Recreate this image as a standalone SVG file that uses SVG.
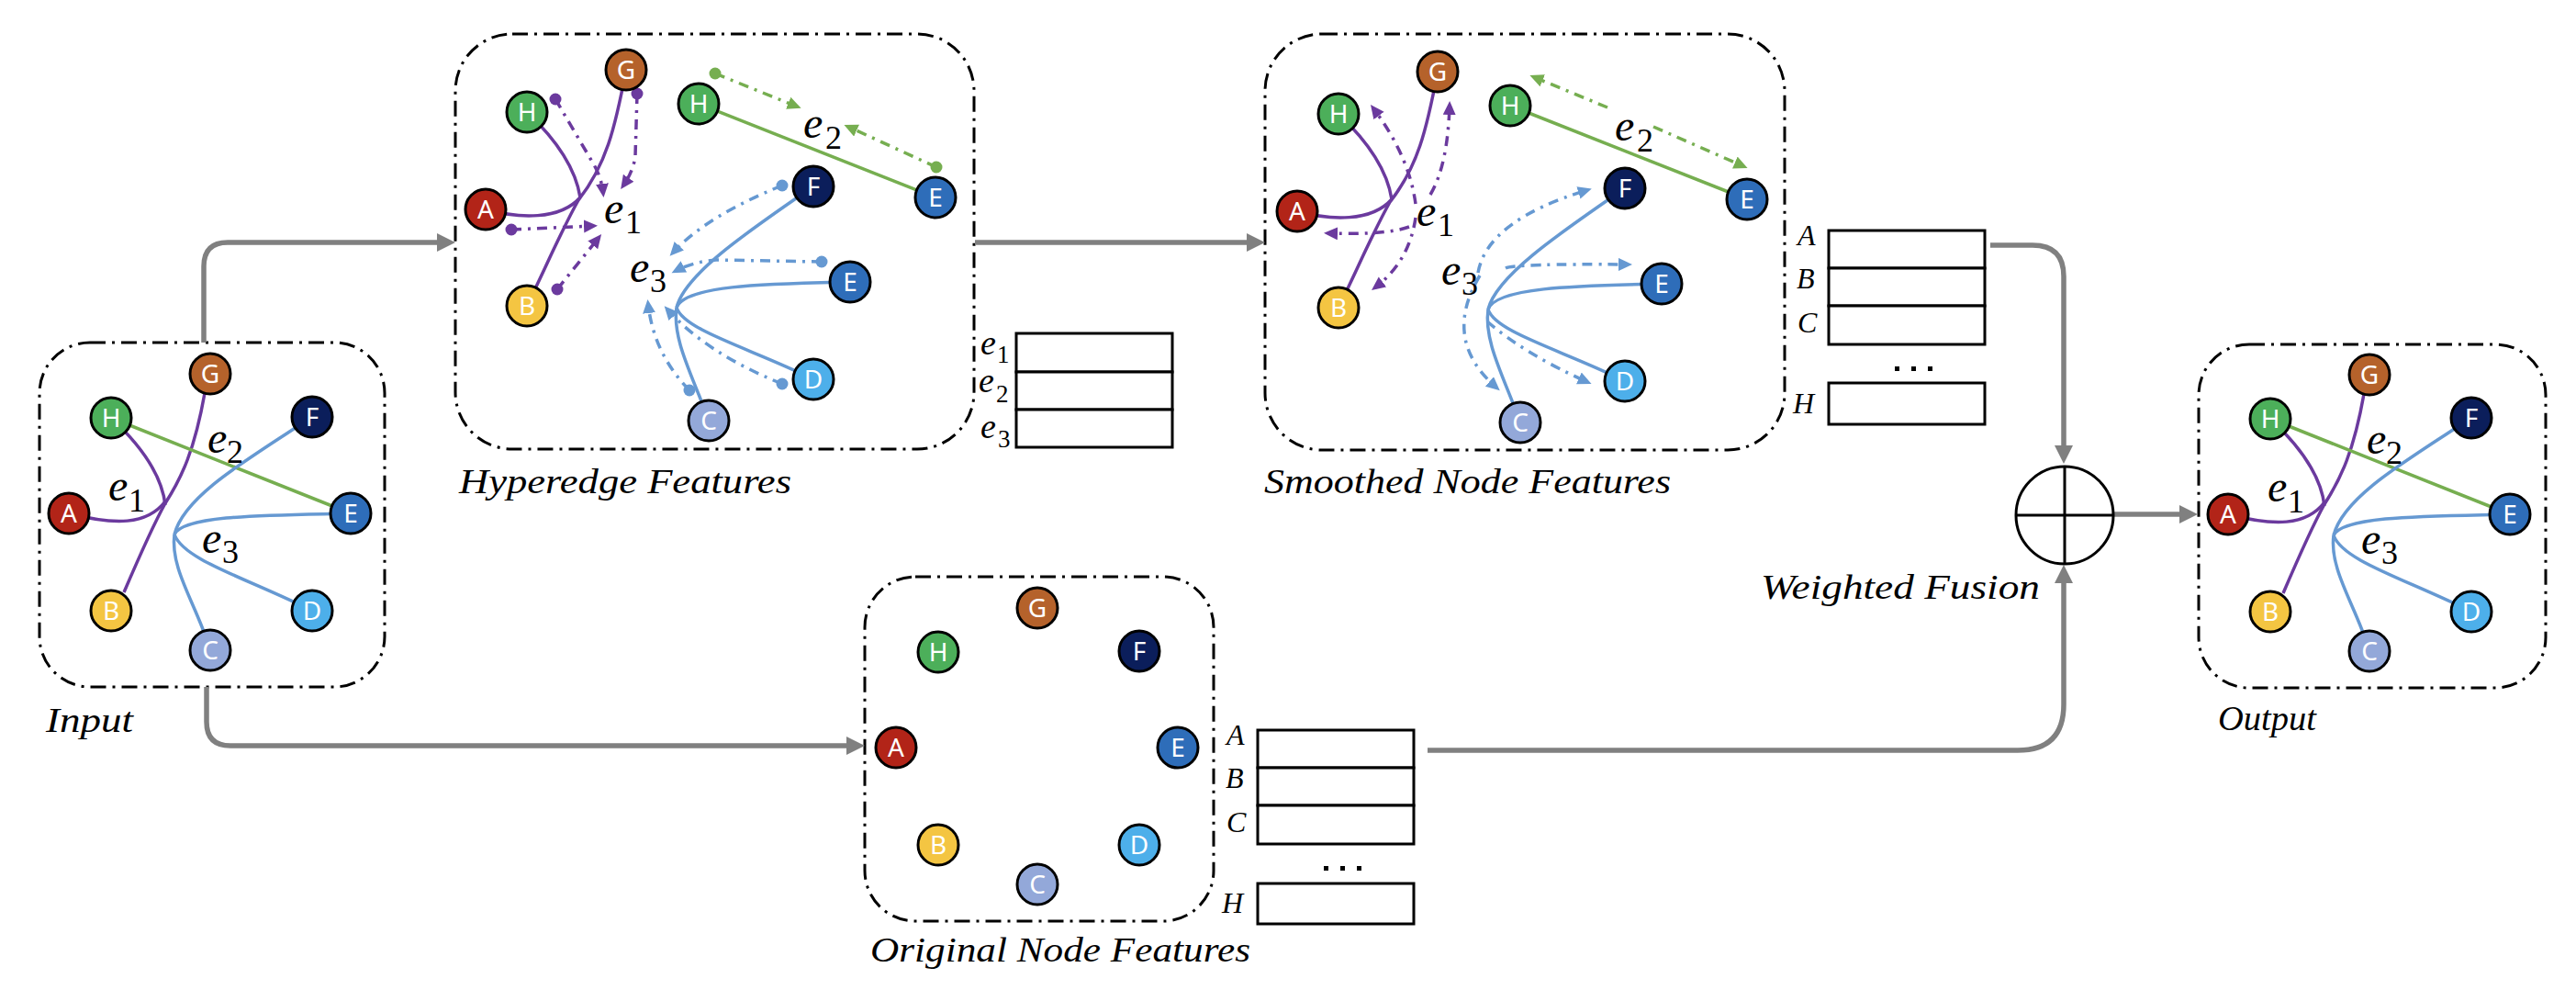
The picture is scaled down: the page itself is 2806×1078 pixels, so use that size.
<svg xmlns="http://www.w3.org/2000/svg" width="2806" height="1078" viewBox="0 0 2806 1078">
<style>
.box{fill:none;stroke:#000;stroke-width:3;stroke-dasharray:17 7 3 7}
.nd circle{stroke:#000;stroke-width:3}
.nd text{fill:#fff;font-family:"Noto Sans","DejaVu Sans",sans-serif;font-size:28px;text-anchor:middle}
.cA{fill:#B22418}.cB{fill:#F4C542}.cC{fill:#93A8D9}.cD{fill:#4DAFEA}.cE{fill:#2E6DB9}.cF{fill:#0B1E5B}.cG{fill:#B5622B}.cH{fill:#4CAF5A}
.ep,.eg,.eb{fill:none;stroke-width:3.5}
.ep{stroke:#6B3A9E}.eg{stroke:#76AE50}.eb{stroke:#6699D2}
.dd{stroke-dasharray:11 7 3 7}
.pa{marker-start:url(#dp);marker-end:url(#ap)}
.ga2{marker-start:url(#dg);marker-end:url(#ag)}
.ba{marker-start:url(#db);marker-end:url(#ab)}
.pa2{marker-end:url(#ap)}.gb2{marker-end:url(#ag)}.bb2{marker-end:url(#ab)}
.flow{fill:none;stroke:#808080;stroke-width:5.5;marker-end:url(#ga)}
.m{font-family:"Liberation Serif",serif;font-style:italic;font-size:48px;fill:#000}
.s{font-style:normal;font-size:36px}
.mt{font-size:38px}.st{font-style:normal;font-size:27px}
.cap{font-family:"Liberation Serif",serif;font-style:italic;font-size:38px;fill:#000}
.tl{font-family:"Liberation Serif",serif;font-style:italic;font-size:32px;fill:#000}
.cell{fill:#fff;stroke:#000;stroke-width:3}
.fus{fill:#fff;stroke:#000;stroke-width:3}
</style>
<defs>
<marker id="ga" markerUnits="userSpaceOnUse" markerWidth="22" markerHeight="22" refX="6" refY="10" orient="auto"><path d="M0,0 L20,10 L0,20z" fill="#808080"/></marker>
<marker id="ap" markerUnits="userSpaceOnUse" markerWidth="16" markerHeight="16" refX="10" refY="7" orient="auto"><path d="M0,0 L15,7 L0,14z" fill="#6B3A9E"/></marker>
<marker id="ag" markerUnits="userSpaceOnUse" markerWidth="16" markerHeight="16" refX="10" refY="7" orient="auto"><path d="M0,0 L15,7 L0,14z" fill="#76AE50"/></marker>
<marker id="ab" markerUnits="userSpaceOnUse" markerWidth="16" markerHeight="16" refX="10" refY="7" orient="auto"><path d="M0,0 L15,7 L0,14z" fill="#6699D2"/></marker>
<marker id="dp" markerUnits="userSpaceOnUse" markerWidth="16" markerHeight="16" refX="8" refY="8"><circle cx="8" cy="8" r="6.5" fill="#6B3A9E"/></marker>
<marker id="dg" markerUnits="userSpaceOnUse" markerWidth="16" markerHeight="16" refX="8" refY="8"><circle cx="8" cy="8" r="6.5" fill="#76AE50"/></marker>
<marker id="db" markerUnits="userSpaceOnUse" markerWidth="16" markerHeight="16" refX="8" refY="8"><circle cx="8" cy="8" r="6.5" fill="#6699D2"/></marker>
</defs>
<rect width="2806" height="1078" fill="#fff"/>

<!-- panel frames -->
<g id="frames">
<rect class="box" x="43" y="373" width="376" height="375" rx="55"/>
<rect class="box" x="496" y="37" width="565" height="452" rx="62"/>
<rect class="box" x="1378" y="37" width="566" height="453" rx="62"/>
<rect class="box" x="942" y="628" width="380" height="375" rx="55"/>
<rect class="box" x="2395" y="375" width="378" height="374" rx="55"/>
</g>

<!-- connectors -->
<g id="connectors">
<path class="flow" d="M222,373 L222,290 Q222,264 248,264 L482,264"/>
<path class="flow" d="M1062,264 L1364,264"/>
<path class="flow" d="M225,748 L225,786 Q225,812 251,812 L928,812"/>
<path class="flow" d="M2168,267 L2214,267 Q2248,267 2248,301 L2248,491"/>
<path class="flow" d="M1555,817 L2198,817 Q2248,817 2248,767 L2248,629"/>
<path class="flow" d="M2300,560 L2380,560"/>
</g>

<!-- Input hypergraph edges -->
<g id="input-edges">
<path class="ep" d="M223,428 C212,490 198,520 180,548 C165,575 150,610 135,645"/>
<path class="ep" d="M121,455 Q175,505 180,550"/>
<path class="ep" d="M75,559 C125,572 160,572 180,546"/>
<path class="eg" d="M121,455 L382,559"/>
<path class="eb" d="M340,454 C270,500 200,540 190,582"/>
<path class="eb" d="M382,559 C300,561 200,560 190,582"/>
<path class="eb" d="M340,665 C270,630 200,610 190,582"/>
<path class="eb" d="M229,708 C215,660 185,620 190,582"/>
</g>
<g id="input-nodes">
<g id="in-G" class="nd"><circle class="cG" cx="229" cy="407" r="22"/><text x="229" y="417">G</text></g>
<g id="in-H" class="nd"><circle class="cH" cx="121" cy="455" r="22"/><text x="121" y="465">H</text></g>
<g id="in-F" class="nd"><circle class="cF" cx="340" cy="454" r="22"/><text x="340" y="464">F</text></g>
<g id="in-A" class="nd"><circle class="cA" cx="75" cy="559" r="22"/><text x="75" y="569">A</text></g>
<g id="in-E" class="nd"><circle class="cE" cx="382" cy="559" r="22"/><text x="382" y="569">E</text></g>
<g id="in-B" class="nd"><circle class="cB" cx="121" cy="665" r="22"/><text x="121" y="675">B</text></g>
<g id="in-D" class="nd"><circle class="cD" cx="340" cy="665" r="22"/><text x="340" y="675">D</text></g>
<g id="in-C" class="nd"><circle class="cC" cx="229" cy="708" r="22"/><text x="229" y="718">C</text></g>
</g>
<g id="input-labels">
<text class="m" x="118" y="545">e<tspan class="s" x="140" y="557">1</tspan></text>
<text class="m" x="226" y="493">e<tspan class="s" x="247" y="504">2</tspan></text>
<text class="m" x="220" y="602">e<tspan class="s" x="242" y="613">3</tspan></text>
<text class="cap" x="50" y="797" textLength="95" lengthAdjust="spacingAndGlyphs">Input</text>
</g>

<!-- Hyperedge features panel -->
<g id="he-edges">
<path class="ep" d="M682,76 C670,140 660,180 630,218 C612,250 595,290 574,333"/>
<path class="ep" d="M574,122 Q625,170 632,215"/>
<path class="ep" d="M529,228 C565,238 610,240 632,215"/>
<path class="eg" d="M761,113 L1019,215"/>
<path class="eb" d="M886,203 C810,255 745,300 737,335"/>
<path class="eb" d="M926,307 C840,309 745,310 737,335"/>
<path class="eb" d="M886,413 C820,380 745,360 737,335"/>
<path class="eb" d="M772,458 C755,410 732,370 737,335"/>
<path class="ep dd pa" d="M605,108 L645,176 Q655,192 657,210"/>
<path class="ep dd pa" d="M694,102 L692,170 Q690,186 679,202"/>
<path class="ep dd pa" d="M557,250 L646,246"/>
<path class="ep dd pa" d="M607,315 L652,259"/>
<path class="eg dd ga2" d="M779,80 L868,116"/>
<path class="eg dd ga2" d="M1020,182 L924,138"/>
<path class="eb dd ba" d="M852,202 Q770,235 733,275"/>
<path class="eb dd ba" d="M895,285 L780,283 Q755,285 736,295"/>
<path class="eb dd ba" d="M852,418 Q770,385 727,337"/>
<path class="eb dd ba" d="M751,425 Q712,385 706,331"/>
</g>
<g id="he-nodes">
<g id="he-G" class="nd"><circle class="cG" cx="682" cy="76" r="22"/><text x="682" y="86">G</text></g>
<g id="he-H1" class="nd"><circle class="cH" cx="574" cy="122" r="22"/><text x="574" y="132">H</text></g>
<g id="he-H2" class="nd"><circle class="cH" cx="761" cy="113" r="22"/><text x="761" y="123">H</text></g>
<g id="he-A" class="nd"><circle class="cA" cx="529" cy="228" r="22"/><text x="529" y="238">A</text></g>
<g id="he-B" class="nd"><circle class="cB" cx="574" cy="333" r="22"/><text x="574" y="343">B</text></g>
<g id="he-F" class="nd"><circle class="cF" cx="886" cy="203" r="22"/><text x="886" y="213">F</text></g>
<g id="he-E1" class="nd"><circle class="cE" cx="1019" cy="215" r="22"/><text x="1019" y="225">E</text></g>
<g id="he-E2" class="nd"><circle class="cE" cx="926" cy="307" r="22"/><text x="926" y="317">E</text></g>
<g id="he-D" class="nd"><circle class="cD" cx="886" cy="413" r="22"/><text x="886" y="423">D</text></g>
<g id="he-C" class="nd"><circle class="cC" cx="772" cy="458" r="22"/><text x="772" y="468">C</text></g>
</g>
<g id="he-labels">
<text class="m" x="658" y="243">e<tspan class="s" x="681" y="254">1</tspan></text>
<text class="m" x="875" y="150">e<tspan class="s" x="899" y="162">2</tspan></text>
<text class="m" x="686" y="307">e<tspan class="s" x="708" y="318">3</tspan></text>
<text class="cap" x="500" y="537" textLength="362" lengthAdjust="spacingAndGlyphs">Hyperedge Features</text>
</g>
<g id="he-table">
<rect class="cell" x="1107" y="363" width="170" height="42"/>
<rect class="cell" x="1107" y="405" width="170" height="41"/>
<rect class="cell" x="1107" y="446" width="170" height="41"/>
<text class="m mt" x="1068" y="386">e<tspan class="st" x="1086" y="395">1</tspan></text>
<text class="m mt" x="1066" y="427">e<tspan class="st" x="1085" y="438">2</tspan></text>
<text class="m mt" x="1068" y="477">e<tspan class="st" x="1087" y="487">3</tspan></text>
</g>

<!-- Smoothed node features panel -->
<g id="sm-edges">
<g transform="translate(884,2)">
<path class="ep" d="M682,76 C670,140 660,180 630,218 C612,250 595,290 574,333"/>
<path class="ep" d="M574,122 Q625,170 632,215"/>
<path class="ep" d="M529,228 C565,238 610,240 632,215"/>
<path class="eg" d="M761,113 L1019,215"/>
<path class="eb" d="M886,203 C810,255 745,300 737,335"/>
<path class="eb" d="M926,307 C840,309 745,310 737,335"/>
<path class="eb" d="M886,413 C820,380 745,360 737,335"/>
<path class="eb" d="M772,458 C755,410 732,370 737,335"/>
</g>
<path class="ep dd pa2" d="M1542,222 Q1535,170 1496,118"/>
<path class="ep dd pa2" d="M1558,212 Q1577,180 1579,115"/>
<path class="ep dd pa2" d="M1535,247 Q1510,256 1447,254"/>
<path class="ep dd pa2" d="M1542,237 Q1535,285 1498,313"/>
<path class="eg dd gb2" d="M1751,117 L1671,84"/>
<path class="eg dd gb2" d="M1801,138 L1899,181"/>
<path class="eb dd bb2" d="M1610,297 Q1620,240 1729,207"/>
<path class="eb dd bb2" d="M1640,292 Q1650,287 1773,288"/>
<path class="eb dd bb2" d="M1620,350 Q1660,385 1729,416"/>
<path class="eb dd bb2" d="M1612,300 Q1570,370 1630,422"/>
</g>
<g id="sm-nodes" transform="translate(884,2)">
<g id="sm-G" class="nd"><circle class="cG" cx="682" cy="76" r="22"/><text x="682" y="86">G</text></g>
<g id="sm-H1" class="nd"><circle class="cH" cx="574" cy="122" r="22"/><text x="574" y="132">H</text></g>
<g id="sm-H2" class="nd"><circle class="cH" cx="761" cy="113" r="22"/><text x="761" y="123">H</text></g>
<g id="sm-A" class="nd"><circle class="cA" cx="529" cy="228" r="22"/><text x="529" y="238">A</text></g>
<g id="sm-B" class="nd"><circle class="cB" cx="574" cy="333" r="22"/><text x="574" y="343">B</text></g>
<g id="sm-F" class="nd"><circle class="cF" cx="886" cy="203" r="22"/><text x="886" y="213">F</text></g>
<g id="sm-E1" class="nd"><circle class="cE" cx="1019" cy="215" r="22"/><text x="1019" y="225">E</text></g>
<g id="sm-E2" class="nd"><circle class="cE" cx="926" cy="307" r="22"/><text x="926" y="317">E</text></g>
<g id="sm-D" class="nd"><circle class="cD" cx="886" cy="413" r="22"/><text x="886" y="423">D</text></g>
<g id="sm-C" class="nd"><circle class="cC" cx="772" cy="458" r="22"/><text x="772" y="468">C</text></g>
</g>
<g id="sm-labels">
<text class="m" x="1543" y="246">e<tspan class="s" x="1566" y="257">1</tspan></text>
<text class="m" x="1759" y="153">e<tspan class="s" x="1783" y="165">2</tspan></text>
<text class="m" x="1570" y="310">e<tspan class="s" x="1592" y="321">3</tspan></text>
<text class="cap" x="1377" y="537" textLength="443" lengthAdjust="spacingAndGlyphs">Smoothed Node Features</text>
</g>
<g id="sm-table">
<rect class="cell" x="1992" y="251" width="170" height="41"/>
<rect class="cell" x="1992" y="292" width="170" height="41"/>
<rect class="cell" x="1992" y="333" width="170" height="42"/>
<rect class="cell" x="1992" y="417" width="170" height="45"/>
<rect x="2064" y="399" width="5" height="5"/><rect x="2082" y="399" width="5" height="5"/><rect x="2100" y="399" width="5" height="5"/>
<text class="tl" x="1958" y="267">A</text>
<text class="tl" x="1957" y="314">B</text>
<text class="tl" x="1958" y="362">C</text>
<text class="tl" x="1953" y="450">H</text>
</g>

<!-- Original node features panel -->
<g id="orig-nodes" transform="translate(901,255)">
<g id="or-G" class="nd"><circle class="cG" cx="229" cy="407" r="22"/><text x="229" y="417">G</text></g>
<g id="or-H" class="nd"><circle class="cH" cx="121" cy="455" r="22"/><text x="121" y="465">H</text></g>
<g id="or-F" class="nd"><circle class="cF" cx="340" cy="454" r="22"/><text x="340" y="464">F</text></g>
<g id="or-A" class="nd"><circle class="cA" cx="75" cy="559" r="22"/><text x="75" y="569">A</text></g>
<g id="or-E" class="nd"><circle class="cE" cx="382" cy="559" r="22"/><text x="382" y="569">E</text></g>
<g id="or-B" class="nd"><circle class="cB" cx="121" cy="665" r="22"/><text x="121" y="675">B</text></g>
<g id="or-D" class="nd"><circle class="cD" cx="340" cy="665" r="22"/><text x="340" y="675">D</text></g>
<g id="or-C" class="nd"><circle class="cC" cx="229" cy="708" r="22"/><text x="229" y="718">C</text></g>
</g>
<g id="orig-table">
<rect class="cell" x="1370" y="795" width="170" height="41"/>
<rect class="cell" x="1370" y="836" width="170" height="41"/>
<rect class="cell" x="1370" y="877" width="170" height="42"/>
<rect class="cell" x="1370" y="962" width="170" height="44"/>
<rect x="1442" y="943" width="5" height="5"/><rect x="1460" y="943" width="5" height="5"/><rect x="1478" y="943" width="5" height="5"/>
<text class="tl" x="1336" y="811">A</text>
<text class="tl" x="1335" y="858">B</text>
<text class="tl" x="1336" y="906">C</text>
<text class="tl" x="1331" y="994">H</text>
<text class="cap" x="948" y="1047" textLength="414" lengthAdjust="spacingAndGlyphs">Original Node Features</text>
</g>

<!-- Weighted fusion -->
<g id="fusion">
<circle class="fus" cx="2249" cy="561" r="53"/>
<path d="M2249,508 L2249,614 M2196,561 L2302,561" stroke="#000" stroke-width="3"/>
<text class="cap" x="1918" y="652" textLength="304" lengthAdjust="spacingAndGlyphs">Weighted Fusion</text>
</g>

<!-- Output hypergraph -->
<g id="out-edges" transform="translate(2352,1)">
<path class="ep" d="M223,428 C212,490 198,520 180,548 C165,575 150,610 135,645"/>
<path class="ep" d="M121,455 Q175,505 180,550"/>
<path class="ep" d="M75,559 C125,572 160,572 180,546"/>
<path class="eg" d="M121,455 L382,559"/>
<path class="eb" d="M340,454 C270,500 200,540 190,582"/>
<path class="eb" d="M382,559 C300,561 200,560 190,582"/>
<path class="eb" d="M340,665 C270,630 200,610 190,582"/>
<path class="eb" d="M229,708 C215,660 185,620 190,582"/>
</g>
<g id="out-nodes" transform="translate(2352,1)">
<g id="out-G" class="nd"><circle class="cG" cx="229" cy="407" r="22"/><text x="229" y="417">G</text></g>
<g id="out-H" class="nd"><circle class="cH" cx="121" cy="455" r="22"/><text x="121" y="465">H</text></g>
<g id="out-F" class="nd"><circle class="cF" cx="340" cy="454" r="22"/><text x="340" y="464">F</text></g>
<g id="out-A" class="nd"><circle class="cA" cx="75" cy="559" r="22"/><text x="75" y="569">A</text></g>
<g id="out-E" class="nd"><circle class="cE" cx="382" cy="559" r="22"/><text x="382" y="569">E</text></g>
<g id="out-B" class="nd"><circle class="cB" cx="121" cy="665" r="22"/><text x="121" y="675">B</text></g>
<g id="out-D" class="nd"><circle class="cD" cx="340" cy="665" r="22"/><text x="340" y="675">D</text></g>
<g id="out-C" class="nd"><circle class="cC" cx="229" cy="708" r="22"/><text x="229" y="718">C</text></g>
</g>
<g id="out-labels">
<g transform="translate(2352,1)">
<text class="m" x="118" y="545">e<tspan class="s" x="140" y="557">1</tspan></text>
<text class="m" x="226" y="493">e<tspan class="s" x="247" y="504">2</tspan></text>
<text class="m" x="220" y="602">e<tspan class="s" x="242" y="613">3</tspan></text>
</g>
<text class="cap" x="2416" y="795" textLength="107" lengthAdjust="spacingAndGlyphs">Output</text>
</g>
</svg>
